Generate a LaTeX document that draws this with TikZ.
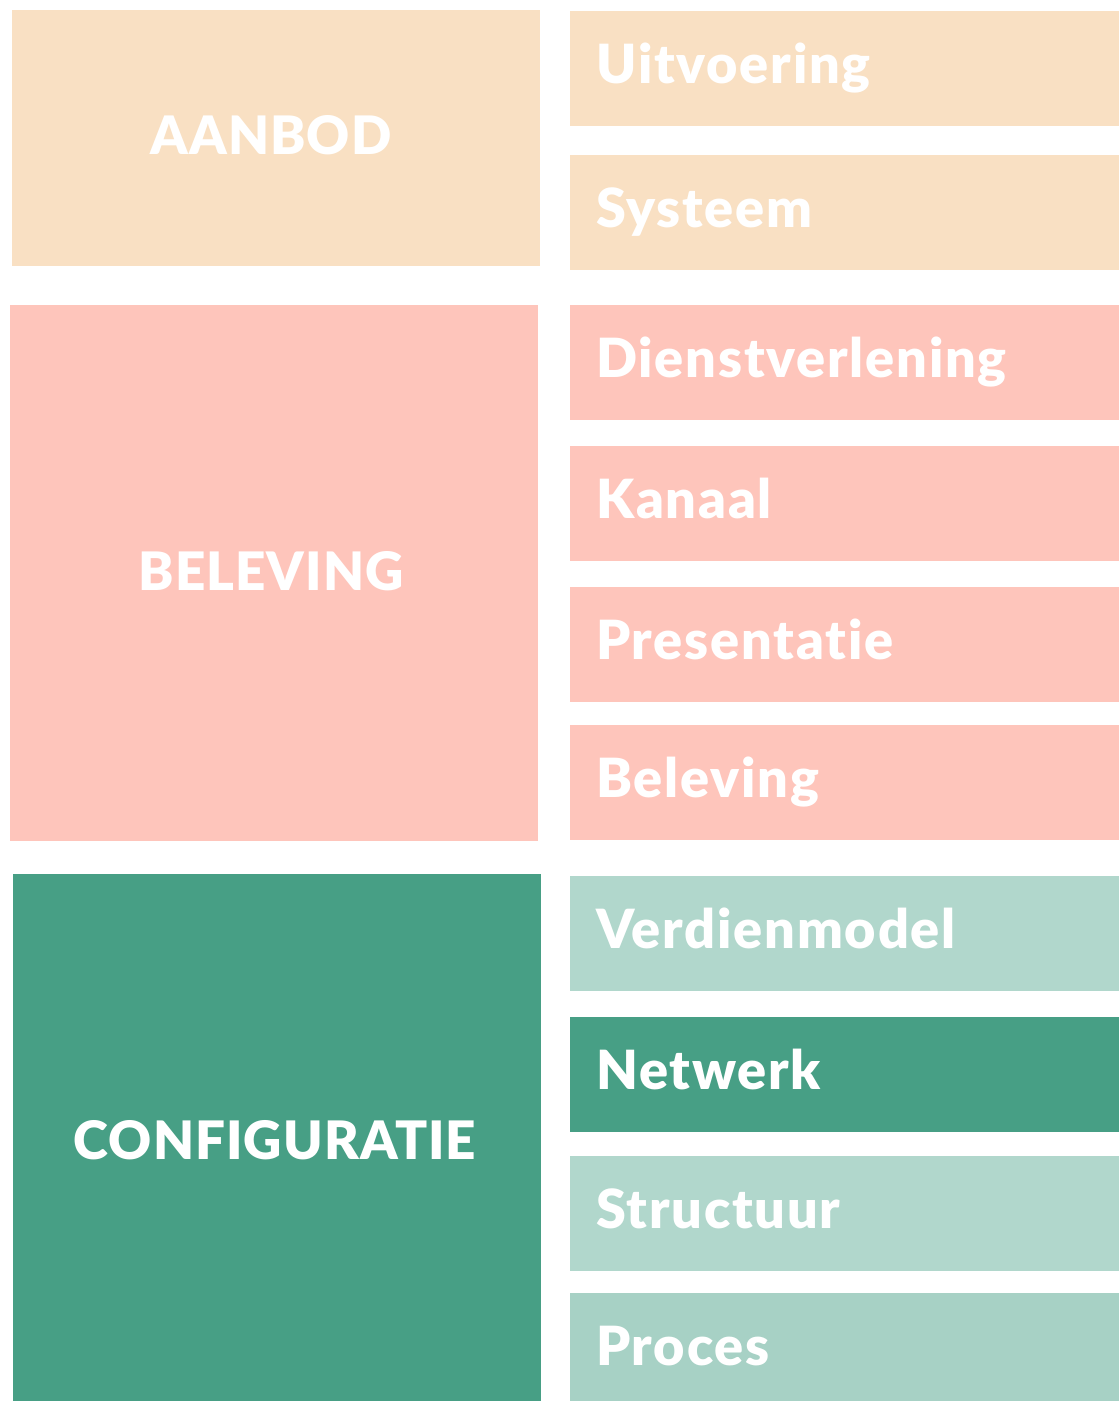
\documentclass[tikz,border=0pt]{standalone}
\usepackage{fontspec}
\setmainfont{Lato}[BoldFont={Lato Black}, Ligatures={NoCommon}]
\usetikzlibrary{calc}
\definecolor{peach}{HTML}{F9E0C3}
\definecolor{pinkc}{HTML}{FEC5BB}
\definecolor{darkg}{HTML}{479F85}
\definecolor{lightg}{HTML}{B1D7CC}
\definecolor{procg}{HTML}{A7D1C5}
\tikzset{
  box/.style={rectangle, inner sep=0pt, outer sep=0pt, anchor=north west, draw=none},
  rbox/.style={box, minimum width=549pt, minimum height=115pt},
  rlab/.style={anchor=base west, inner sep=0pt, text=white, font=\fontsize{54}{54}\selectfont\bfseries\addfontfeature{LetterSpace=3.3}},
  biglab/.style={anchor=base, inner sep=0pt, text=white, font=\fontsize{53}{53}\selectfont\bfseries\addfontfeature{LetterSpace=2}},
}
\begin{document}
\begin{tikzpicture}[x=1pt,y=-1pt]
\useasboundingbox (0,0) rectangle (1119,1401);
\fill[white] (0,0) rectangle (1119,1401);
% left big boxes
\node[box, fill=peach, minimum width=528pt, minimum height=256pt] (aanbod) at (12,10) {};
\node[box, fill=pinkc, minimum width=528pt, minimum height=536pt] (beleving) at (10,305) {};
\node[box, fill=darkg, minimum width=528pt, minimum height=527pt] (config) at (13,874) {};
\node[biglab] (laanbod) at (271,154) {AANBOD};
\node[biglab] (lbeleving) at (271,590) {BELEVING};
\node[biglab] (lconfig) at (275,1159) {CONFIGURATIE};
% right boxes
\node[rbox, fill=peach] (uit) at (570,11) {};
\node[rbox, fill=peach] (sys) at (570,155) {};
\node[rbox, fill=pinkc] (dienst) at (570,305) {};
\node[rbox, fill=pinkc] (kanaal) at (570,446) {};
\node[rbox, fill=pinkc] (pres) at (570,587) {};
\node[rbox, fill=pinkc] (bel) at (570,725) {};
\node[rbox, fill=lightg] (verd) at (570,876) {};
\node[rbox, fill=darkg] (netw) at (570,1017) {};
\node[rbox, fill=lightg] (struc) at (570,1156) {};
\node[rbox, fill=procg] (proc) at (570,1293) {};
\foreach \n/\t in {uit/Uitvoering, sys/Systeem, dienst/Dienstverlening, kanaal/Kanaal, pres/Presentatie, bel/Beleving, verd/Verdienmodel, netw/Netwerk, struc/Structuur, proc/Proces}{
  \node[rlab] (l\n) at ($(\n.north west)+(26,72)$) {\t};
}
\end{tikzpicture}
\end{document}
